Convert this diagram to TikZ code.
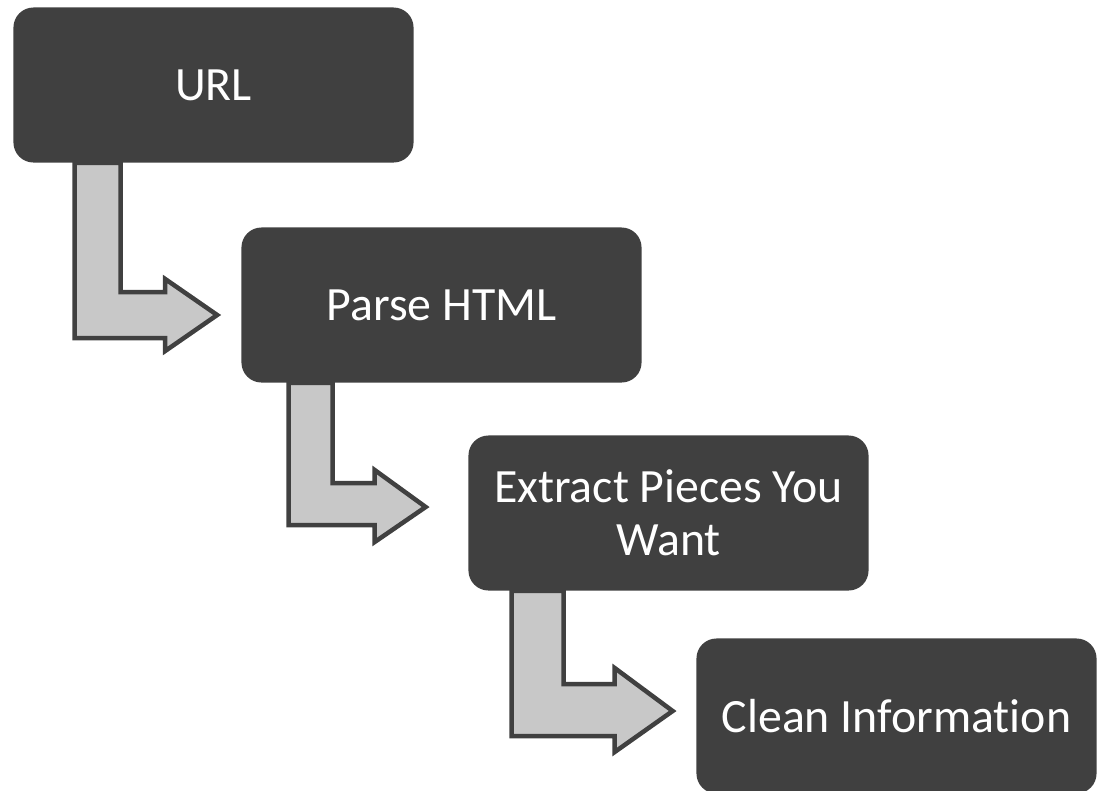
\documentclass[tikz,border=0pt]{standalone}
\usepackage{fontspec}
\setmainfont[Ligatures=NoCommon]{Carlito}
\usetikzlibrary{calc}
\definecolor{boxgray}{RGB}{64,64,64}
\definecolor{arrowgray}{RGB}{200,200,200}

\begin{document}
\begin{tikzpicture}[x=0.025cm,y=-0.025cm,
    box/.style={fill=boxgray,text=white,rounded corners=0.5cm,minimum width=10cm,
      minimum height=3.875cm,align=center,font=\fontsize{34}{38}\selectfont},
    bigarrow/.style={draw=boxgray,fill=arrowgray,line width=3.2pt,line join=miter}]
  \useasboundingbox (0,0) rectangle (1101,791);
  % steps
  \node[box] (url) at (213.5,85) {URL};
  \node[box] (parse) at ($(url)+(228,220)$) {Parse HTML};
  \node[box] (extract) at ($(parse)+(227,208)$) {Extract Pieces You\\Want};
  \node[box] (clean) at ($(extract)+(228,203)$) {Clean Information};
  % arrow tips
  \coordinate (t1) at ($(parse.west)+(-24,10)$);
  \coordinate (t2) at ($(extract.west)+(-42.5,-6)$);
  \coordinate (t3) at ($(clean.west)+(-23.5,-5)$);
  % bent arrows
  \path[bigarrow] ($(url.south west)+(61.5,0)$) |- ($(t1)+(-52,23)$) -- ++(0,13) -- (t1)
    -- ++(-52,-36) -- ++(0,13) -| ($(url.south west)+(107.5,0)$) -- cycle;
  \path[bigarrow] ($(parse.south west)+(47.5,0)$) |- ($(t2)+(-51,18)$) -- ++(0,17) -- (t2)
    -- ++(-51,-37) -- ++(0,13) -| ($(parse.south west)+(91.5,0)$) -- cycle;
  \path[bigarrow] ($(extract.south west)+(43.5,0)$) |- ($(t3)+(-58,25)$) -- ++(0,16) -- (t3)
    -- ++(-58,-43) -- ++(0,16) -| ($(extract.south west)+(95.5,0)$) -- cycle;
\end{tikzpicture}
\end{document}
